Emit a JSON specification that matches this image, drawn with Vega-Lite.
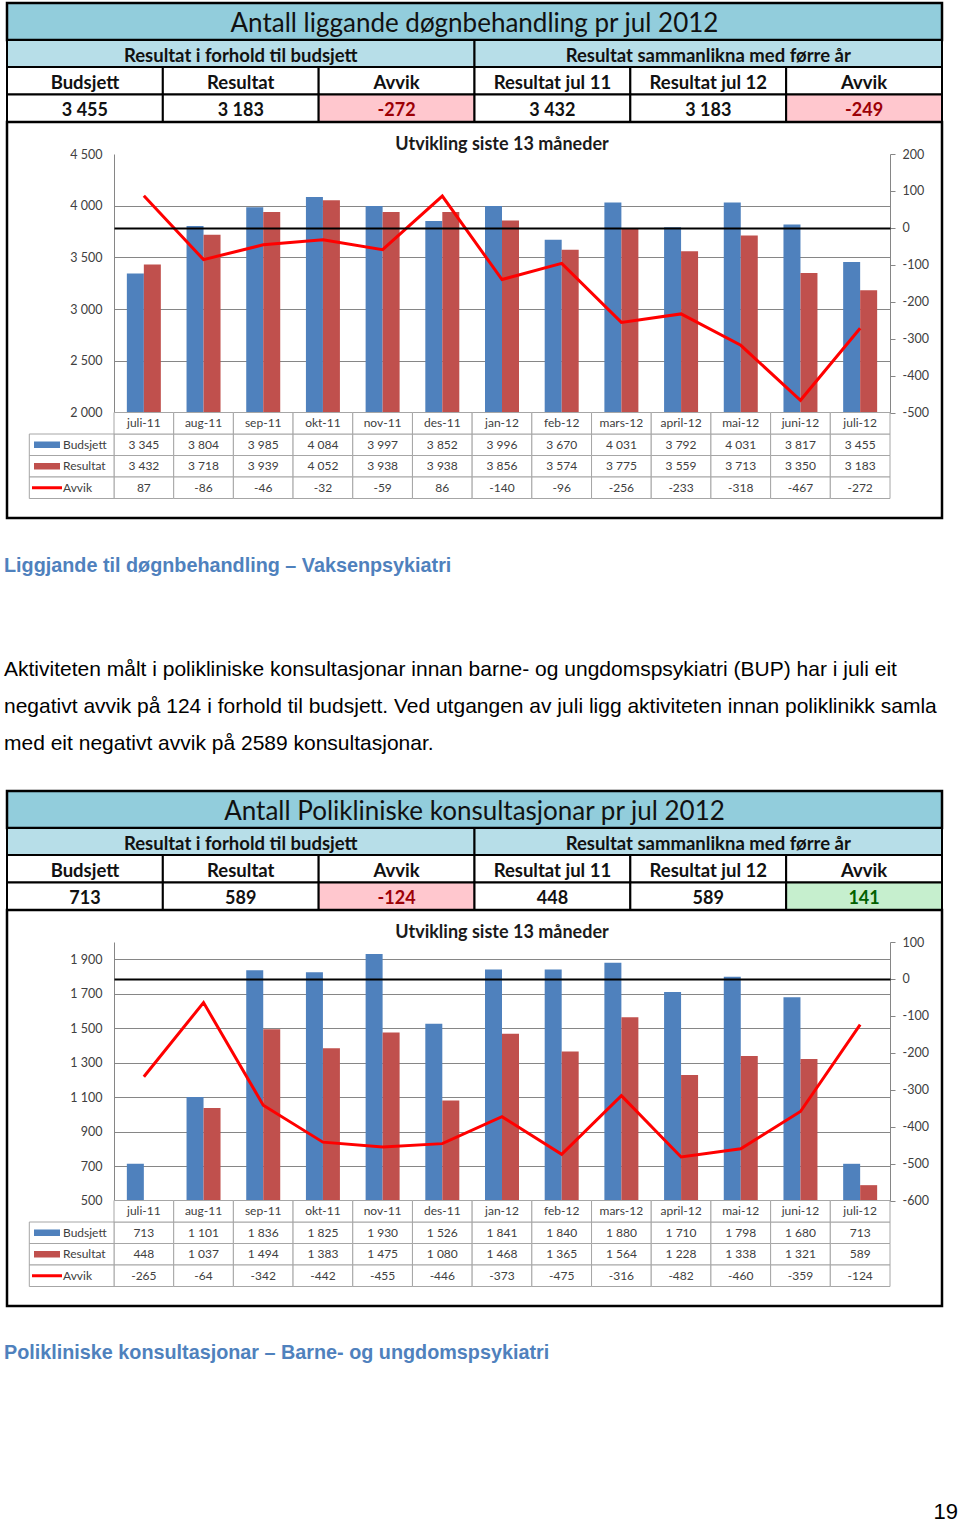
{
  "$schema": "https://vega.github.io/schema/vega-lite/v6.json",
  "background": "white",
  "padding": {"left": 4, "top": 0, "right": 0, "bottom": 0},
  "spacing": 0,
  "bounds": "flush",
  "resolve": {"scale": {"color": "independent", "fill": "independent", "shape": "independent"}},
  "config": {
    "view": {"stroke": null},
    "locale": {"number": {"decimal": ",", "thousands": " ", "grouping": [3], "currency": ["", ""], "minus": "-"}},
    "axis": {"labelFont": "Lato", "labelFontSize": 12.5, "labelColor": "#404040", "domainColor": "#868686", "tickColor": "#868686", "domainWidth": 1, "gridWidth": 1}
  },
  "datasets": {
    "p1": [
      {"month": "juli-11", "Budsjett": 3345, "Resultat": 3432, "Avvik": 87},
      {"month": "aug-11", "Budsjett": 3804, "Resultat": 3718, "Avvik": -86},
      {"month": "sep-11", "Budsjett": 3985, "Resultat": 3939, "Avvik": -46},
      {"month": "okt-11", "Budsjett": 4084, "Resultat": 4052, "Avvik": -32},
      {"month": "nov-11", "Budsjett": 3997, "Resultat": 3938, "Avvik": -59},
      {"month": "des-11", "Budsjett": 3852, "Resultat": 3938, "Avvik": 86},
      {"month": "jan-12", "Budsjett": 3996, "Resultat": 3856, "Avvik": -140},
      {"month": "feb-12", "Budsjett": 3670, "Resultat": 3574, "Avvik": -96},
      {"month": "mars-12", "Budsjett": 4031, "Resultat": 3775, "Avvik": -256},
      {"month": "april-12", "Budsjett": 3792, "Resultat": 3559, "Avvik": -233},
      {"month": "mai-12", "Budsjett": 4031, "Resultat": 3713, "Avvik": -318},
      {"month": "juni-12", "Budsjett": 3817, "Resultat": 3350, "Avvik": -467},
      {"month": "juli-12", "Budsjett": 3455, "Resultat": 3183, "Avvik": -272}
    ],
    "p2": [
      {"month": "juli-11", "Budsjett": 713, "Resultat": 448, "Avvik": -265},
      {"month": "aug-11", "Budsjett": 1101, "Resultat": 1037, "Avvik": -64},
      {"month": "sep-11", "Budsjett": 1836, "Resultat": 1494, "Avvik": -342},
      {"month": "okt-11", "Budsjett": 1825, "Resultat": 1383, "Avvik": -442},
      {"month": "nov-11", "Budsjett": 1930, "Resultat": 1475, "Avvik": -455},
      {"month": "des-11", "Budsjett": 1526, "Resultat": 1080, "Avvik": -446},
      {"month": "jan-12", "Budsjett": 1841, "Resultat": 1468, "Avvik": -373},
      {"month": "feb-12", "Budsjett": 1840, "Resultat": 1365, "Avvik": -475},
      {"month": "mars-12", "Budsjett": 1880, "Resultat": 1564, "Avvik": -316},
      {"month": "april-12", "Budsjett": 1710, "Resultat": 1228, "Avvik": -482},
      {"month": "mai-12", "Budsjett": 1798, "Resultat": 1338, "Avvik": -460},
      {"month": "juni-12", "Budsjett": 1680, "Resultat": 1321, "Avvik": -359},
      {"month": "juli-12", "Budsjett": 713, "Resultat": 589, "Avvik": -124}
    ],
    "h1": [
      {"c": 1, "head": "Budsjett", "value": 3455, "status": "none"},
      {"c": 2, "head": "Resultat", "value": 3183, "status": "none"},
      {"c": 3, "head": "Avvik", "value": -272, "status": "neg"},
      {"c": 4, "head": "Resultat jul 11", "value": 3432, "status": "none"},
      {"c": 5, "head": "Resultat jul 12", "value": 3183, "status": "none"},
      {"c": 6, "head": "Avvik", "value": -249, "status": "neg"}
    ],
    "h2": [
      {"c": 1, "head": "Budsjett", "value": 713, "status": "none"},
      {"c": 2, "head": "Resultat", "value": 589, "status": "none"},
      {"c": 3, "head": "Avvik", "value": -124, "status": "neg"},
      {"c": 4, "head": "Resultat jul 11", "value": 448, "status": "none"},
      {"c": 5, "head": "Resultat jul 12", "value": 589, "status": "none"},
      {"c": 6, "head": "Avvik", "value": 141, "status": "pos"}
    ],
    "legend": [{"series": "Budsjett"}, {"series": "Resultat"}, {"series": "Avvik"}],
    "sub": [{"k": "Resultat i forhold til budsjett"}, {"k": "Resultat sammanlikna med førre år"}]
  },
  "vconcat": [
    {"width": 10, "height": 3, "data": {"values": []}, "mark": "point"},
    {
      "width": 935, "height": 37,
      "view": {"fill": "#92cddc", "stroke": "black", "strokeWidth": 2.5},
      "data": {"values": [{"t": "Antall liggande døgnbehandling pr jul 2012"}]},
      "mark": {"type": "text", "font": "Lato", "fontSize": 26, "color": "#111111", "baseline": "middle", "dy": 2},
      "encoding": {"text": {"field": "t"}}
    },
    {
      "width": 935, "height": 27,
      "data": {"name": "sub"},
      "encoding": {"x": {"field": "k", "type": "nominal", "sort": null, "scale": {"type": "band", "paddingInner": 0, "paddingOuter": 0}, "axis": null}},
      "layer": [
        {"mark": {"type": "rect", "fill": "#b7dee8", "stroke": "black", "strokeWidth": 2}},
        {"mark": {"type": "text", "font": "Lato", "fontWeight": "bold", "fontSize": 18.5, "color": "#111111", "dy": 2}, "encoding": {"text": {"field": "k"}}}
      ]
    },
    {
      "width": 935, "height": 55,
      "data": {"name": "h1"},
      "encoding": {"x": {"field": "c", "type": "ordinal", "scale": {"type": "band", "paddingInner": 0, "paddingOuter": 0}, "axis": null}},
      "layer": [
        {"mark": {"type": "rect", "fill": "white", "stroke": "black", "strokeWidth": 2}, "encoding": {"y": {"datum": "h", "type": "nominal", "scale": {"type": "band", "domain": ["h", "v"], "paddingInner": 0, "paddingOuter": 0}, "axis": null}}},
        {"mark": {"type": "rect", "stroke": "black", "strokeWidth": 2}, "encoding": {"y": {"datum": "v", "type": "nominal"}, "fill": {"field": "status", "type": "nominal", "scale": {"domain": ["none", "neg", "pos"], "range": ["white", "#ffc7ce", "#c6efce"]}, "legend": null}}},
        {"mark": {"type": "text", "font": "Lato", "fontWeight": "bold", "fontSize": 18.5, "color": "#111111", "dy": 2}, "encoding": {"y": {"datum": "h", "type": "nominal"}, "text": {"field": "head"}}},
        {"mark": {"type": "text", "font": "Lato", "fontWeight": "bold", "fontSize": 18, "dy": 2.5}, "encoding": {"y": {"datum": "v", "type": "nominal"}, "text": {"field": "value", "type": "quantitative", "format": ",d"}, "color": {"field": "status", "type": "nominal", "scale": {"domain": ["none", "neg", "pos"], "range": ["#111111", "#9c0006", "#006100"]}, "legend": null}}}
      ]
    },
    {
      "width": 935, "height": 396,
      "view": {"fill": "white", "stroke": "black", "strokeWidth": 2.5},
      "resolve": {"scale": {"x": "independent", "y": "independent"}},
      "layer": [
        {
          "data": {"name": "p1"},
          "transform": [{"fold": ["Budsjett", "Resultat"], "as": ["series", "val"]}],
          "mark": {"type": "bar"},
          "encoding": {
            "x": {"field": "month", "type": "nominal", "sort": null, "scale": {"type": "band", "range": [107, 883], "paddingInner": 0, "paddingOuter": 0}, "axis": null},
            "xOffset": {"field": "series", "type": "nominal", "sort": ["Budsjett", "Resultat"], "scale": {"paddingInner": 0, "paddingOuter": 0.756}},
            "y": {"field": "val", "type": "quantitative", "scale": {"domain": [2000, 4500], "range": [290.5, 32], "nice": false, "zero": false, "clamp": true},
              "axis": {"orient": "left", "offset": -107, "values": [2000, 2500, 3000, 3500, 4000, 4500], "format": ",d", "ticks": false, "tickSize": 0, "labelPadding": 12, "grid": true, "gridColor": {"condition": {"test": "datum.value >= 4500", "value": "transparent"}, "value": "#868686"}, "title": null}},
            "y2": {"datum": 2000},
            "color": {"field": "series", "type": "nominal", "scale": {"domain": ["Budsjett", "Resultat"], "range": ["#4f81bd", "#c0504d"]}, "legend": null}
          }
        },
        {
          "data": {"name": "p1"},
          "mark": {"type": "point", "opacity": 0},
          "encoding": {
            "x": {"field": "month", "type": "nominal", "sort": null, "scale": {"type": "band", "range": [107, 883], "paddingInner": 0, "paddingOuter": 0}, "axis": null},
            "y": {"field": "Avvik", "type": "quantitative", "scale": {"domain": [-500, 200], "range": [290.5, 32], "nice": false, "zero": false},
              "axis": {"orient": "left", "offset": -107, "values": [0], "labels": false, "ticks": false, "domain": false, "grid": true, "gridColor": "#000000", "gridWidth": 2, "zindex": 1, "title": null}}
          }
        },
        {
          "data": {"name": "p1"},
          "mark": {"type": "line", "color": "#ff0000", "strokeWidth": 3},
          "encoding": {
            "x": {"field": "month", "type": "nominal", "sort": null, "scale": {"type": "band", "range": [107, 883], "paddingInner": 0, "paddingOuter": 0}, "axis": null},
            "y": {"field": "Avvik", "type": "quantitative", "scale": {"domain": [-500, 200], "range": [290.5, 32], "nice": false, "zero": false},
              "axis": {"orient": "right", "offset": -52, "values": [-500, -400, -300, -200, -100, 0, 100, 200], "format": "d", "tickSize": 5, "labelPadding": 7, "grid": false, "title": null}}
          }
        },
        {
          "data": {"name": "p1"},
          "transform": [{"fold": ["Budsjett", "Resultat", "Avvik"], "as": ["row", "val"]}],
          "encoding": {
            "x": {"field": "month", "type": "nominal", "sort": null, "scale": {"type": "band", "range": [107, 883], "paddingInner": 0, "paddingOuter": 0}, "axis": null},
            "y": {"field": "row", "type": "nominal", "scale": {"type": "band", "domain": ["m", "Budsjett", "Resultat", "Avvik"], "range": [290.5, 376.5], "paddingInner": 0, "paddingOuter": 0}, "axis": null}
          },
          "layer": [
            {"mark": {"type": "rect", "fill": "white", "stroke": "#a6a6a6", "strokeWidth": 1}},
            {"mark": {"type": "text", "font": "Lato", "fontSize": 12, "color": "#404040"}, "encoding": {"text": {"field": "val", "type": "quantitative", "format": ",d"}}},
            {"transform": [{"filter": "datum.row === 'Budsjett'"}], "mark": {"type": "rect", "fill": "white", "stroke": "#a6a6a6", "strokeWidth": 1}, "encoding": {"y": {"datum": "m", "type": "nominal"}}},
            {"transform": [{"filter": "datum.row === 'Budsjett'"}], "mark": {"type": "text", "font": "Lato", "fontSize": 12, "color": "#404040"}, "encoding": {"y": {"datum": "m", "type": "nominal"}, "text": {"field": "month"}}}
          ]
        },
        {
          "data": {"name": "legend"},
          "resolve": {"scale": {"x": "independent"}},
          "encoding": {"y": {"field": "series", "type": "nominal", "scale": {"type": "band", "domain": ["m", "Budsjett", "Resultat", "Avvik"], "range": [290.5, 376.5], "paddingInner": 0, "paddingOuter": 0}, "axis": null}},
          "layer": [
            {"mark": {"type": "rect", "fill": "white", "stroke": "#a6a6a6", "strokeWidth": 1}, "encoding": {"x": {"datum": "lbl", "type": "nominal", "scale": {"type": "band", "domain": ["lbl"], "range": [22.3, 107], "paddingInner": 0, "paddingOuter": 0}, "axis": null}}},
            {"mark": {"type": "point", "filled": true, "opacity": 1, "size": 900, "strokeWidth": 0}, "encoding": {"x": {"datum": "sym", "type": "nominal", "scale": {"type": "point", "domain": ["sym", "txt"], "range": [40, 56], "padding": 0}, "axis": null}, "shape": {"field": "series", "type": "nominal", "scale": {"domain": ["Budsjett", "Resultat", "Avvik"], "range": ["M-0.867,-0.217H0.867V0.217H-0.867Z", "M-0.867,-0.217H0.867V0.217H-0.867Z", "M-1,-0.1H1V0.1H-1Z"]}, "legend": null}, "fill": {"field": "series", "type": "nominal", "scale": {"domain": ["Budsjett", "Resultat", "Avvik"], "range": ["#4f81bd", "#c0504d", "#ff0000"]}, "legend": null}}},
            {"mark": {"type": "text", "align": "left", "font": "Lato", "fontSize": 12, "color": "#404040"}, "encoding": {"x": {"datum": "txt", "type": "nominal", "scale": {"type": "point", "domain": ["sym", "txt"], "range": [40, 56], "padding": 0}, "axis": null}, "text": {"field": "series"}}}
          ]
        },
        {
          "data": {"values": [{"t": "Utvikling siste 13 måneder"}]},
          "mark": {"type": "text", "font": "Lato", "fontWeight": "bold", "fontSize": 18, "color": "#1a1a1a", "dy": 2},
          "encoding": {
            "x": {"field": "t", "type": "nominal", "scale": {"type": "point", "range": [107, 883]}, "axis": null},
            "y": {"field": "t", "type": "nominal", "scale": {"type": "point", "range": [0, 42.4]}, "axis": null},
            "text": {"field": "t"}
          }
        }
      ]
    },
    {
      "width": 956, "height": 94,
      "data": {"values": [{"t": "Liggjande til døgnbehandling – Vaksenpsykiatri"}]},
      "mark": {"type": "text", "align": "left", "baseline": "middle", "dx": -3, "dy": 1, "font": "Liberation Sans", "fontWeight": "bold", "fontSize": 19.8, "color": "#4f81bd"},
      "encoding": {"x": {"datum": 0, "type": "quantitative", "scale": {"domain": [0, 1]}, "axis": null}, "text": {"field": "t"}}
    },
    {"width": 10, "height": 37, "data": {"values": []}, "mark": "point"},
    {
      "width": 956, "height": 112,
      "data": {"values": [
        {"line": 1, "text": "Aktiviteten målt i polikliniske konsultasjonar innan  barne- og ungdomspsykiatri (BUP) har i juli eit"},
        {"line": 2, "text": "negativt avvik på 124  i forhold til budsjett. Ved utgangen av juli ligg aktiviteten innan poliklinikk samla"},
        {"line": 3, "text": "med eit negativt avvik på 2589 konsultasjonar."}
      ]},
      "mark": {"type": "text", "align": "left", "baseline": "middle", "dx": -3, "dy": 2, "font": "Liberation Sans", "fontSize": 21, "color": "#000000"},
      "encoding": {
        "x": {"datum": 0, "type": "quantitative", "scale": {"domain": [0, 1]}, "axis": null},
        "y": {"field": "line", "type": "ordinal", "scale": {"type": "point", "padding": 0.5}, "axis": null},
        "text": {"field": "text"}
      }
    },
    {"width": 10, "height": 30, "data": {"values": []}, "mark": "point"},
    {
      "width": 935, "height": 37,
      "view": {"fill": "#92cddc", "stroke": "black", "strokeWidth": 2.5},
      "data": {"values": [{"t": "Antall Polikliniske konsultasjonar pr jul 2012"}]},
      "mark": {"type": "text", "font": "Lato", "fontSize": 26, "color": "#111111", "baseline": "middle", "dy": 2},
      "encoding": {"text": {"field": "t"}}
    },
    {
      "width": 935, "height": 27,
      "data": {"name": "sub"},
      "encoding": {"x": {"field": "k", "type": "nominal", "sort": null, "scale": {"type": "band", "paddingInner": 0, "paddingOuter": 0}, "axis": null}},
      "layer": [
        {"mark": {"type": "rect", "fill": "#b7dee8", "stroke": "black", "strokeWidth": 2}},
        {"mark": {"type": "text", "font": "Lato", "fontWeight": "bold", "fontSize": 18.5, "color": "#111111", "dy": 2}, "encoding": {"text": {"field": "k"}}}
      ]
    },
    {
      "width": 935, "height": 55,
      "data": {"name": "h2"},
      "encoding": {"x": {"field": "c", "type": "ordinal", "scale": {"type": "band", "paddingInner": 0, "paddingOuter": 0}, "axis": null}},
      "layer": [
        {"mark": {"type": "rect", "fill": "white", "stroke": "black", "strokeWidth": 2}, "encoding": {"y": {"datum": "h", "type": "nominal", "scale": {"type": "band", "domain": ["h", "v"], "paddingInner": 0, "paddingOuter": 0}, "axis": null}}},
        {"mark": {"type": "rect", "stroke": "black", "strokeWidth": 2}, "encoding": {"y": {"datum": "v", "type": "nominal"}, "fill": {"field": "status", "type": "nominal", "scale": {"domain": ["none", "neg", "pos"], "range": ["white", "#ffc7ce", "#c6efce"]}, "legend": null}}},
        {"mark": {"type": "text", "font": "Lato", "fontWeight": "bold", "fontSize": 18.5, "color": "#111111", "dy": 2}, "encoding": {"y": {"datum": "h", "type": "nominal"}, "text": {"field": "head"}}},
        {"mark": {"type": "text", "font": "Lato", "fontWeight": "bold", "fontSize": 18, "dy": 2.5}, "encoding": {"y": {"datum": "v", "type": "nominal"}, "text": {"field": "value", "type": "quantitative", "format": ",d"}, "color": {"field": "status", "type": "nominal", "scale": {"domain": ["none", "neg", "pos"], "range": ["#111111", "#9c0006", "#006100"]}, "legend": null}}}
      ]
    },
    {
      "width": 935, "height": 396,
      "view": {"fill": "white", "stroke": "black", "strokeWidth": 2.5},
      "resolve": {"scale": {"x": "independent", "y": "independent"}},
      "layer": [
        {
          "data": {"name": "p2"},
          "transform": [{"fold": ["Budsjett", "Resultat"], "as": ["series", "val"]}],
          "mark": {"type": "bar"},
          "encoding": {
            "x": {"field": "month", "type": "nominal", "sort": null, "scale": {"type": "band", "range": [107, 883], "paddingInner": 0, "paddingOuter": 0}, "axis": null},
            "xOffset": {"field": "series", "type": "nominal", "sort": ["Budsjett", "Resultat"], "scale": {"paddingInner": 0, "paddingOuter": 0.756}},
            "y": {"field": "val", "type": "quantitative", "scale": {"domain": [500, 2000], "range": [290.5, 32], "nice": false, "zero": false, "clamp": true},
              "axis": {"orient": "left", "offset": -107, "values": [500, 700, 900, 1100, 1300, 1500, 1700, 1900], "format": ",d", "ticks": false, "tickSize": 0, "labelPadding": 12, "grid": true, "gridColor": "#868686", "title": null}},
            "y2": {"datum": 500},
            "color": {"field": "series", "type": "nominal", "scale": {"domain": ["Budsjett", "Resultat"], "range": ["#4f81bd", "#c0504d"]}, "legend": null}
          }
        },
        {
          "data": {"name": "p2"},
          "mark": {"type": "point", "opacity": 0},
          "encoding": {
            "x": {"field": "month", "type": "nominal", "sort": null, "scale": {"type": "band", "range": [107, 883], "paddingInner": 0, "paddingOuter": 0}, "axis": null},
            "y": {"field": "Avvik", "type": "quantitative", "scale": {"domain": [-600, 100], "range": [290.5, 32], "nice": false, "zero": false},
              "axis": {"orient": "left", "offset": -107, "values": [0], "labels": false, "ticks": false, "domain": false, "grid": true, "gridColor": "#000000", "gridWidth": 2, "zindex": 1, "title": null}}
          }
        },
        {
          "data": {"name": "p2"},
          "mark": {"type": "line", "color": "#ff0000", "strokeWidth": 3},
          "encoding": {
            "x": {"field": "month", "type": "nominal", "sort": null, "scale": {"type": "band", "range": [107, 883], "paddingInner": 0, "paddingOuter": 0}, "axis": null},
            "y": {"field": "Avvik", "type": "quantitative", "scale": {"domain": [-600, 100], "range": [290.5, 32], "nice": false, "zero": false},
              "axis": {"orient": "right", "offset": -52, "values": [-600, -500, -400, -300, -200, -100, 0, 100], "format": "d", "tickSize": 5, "labelPadding": 7, "grid": false, "title": null}}
          }
        },
        {
          "data": {"name": "p2"},
          "transform": [{"fold": ["Budsjett", "Resultat", "Avvik"], "as": ["row", "val"]}],
          "encoding": {
            "x": {"field": "month", "type": "nominal", "sort": null, "scale": {"type": "band", "range": [107, 883], "paddingInner": 0, "paddingOuter": 0}, "axis": null},
            "y": {"field": "row", "type": "nominal", "scale": {"type": "band", "domain": ["m", "Budsjett", "Resultat", "Avvik"], "range": [290.5, 376.5], "paddingInner": 0, "paddingOuter": 0}, "axis": null}
          },
          "layer": [
            {"mark": {"type": "rect", "fill": "white", "stroke": "#a6a6a6", "strokeWidth": 1}},
            {"mark": {"type": "text", "font": "Lato", "fontSize": 12, "color": "#404040"}, "encoding": {"text": {"field": "val", "type": "quantitative", "format": ",d"}}},
            {"transform": [{"filter": "datum.row === 'Budsjett'"}], "mark": {"type": "rect", "fill": "white", "stroke": "#a6a6a6", "strokeWidth": 1}, "encoding": {"y": {"datum": "m", "type": "nominal"}}},
            {"transform": [{"filter": "datum.row === 'Budsjett'"}], "mark": {"type": "text", "font": "Lato", "fontSize": 12, "color": "#404040"}, "encoding": {"y": {"datum": "m", "type": "nominal"}, "text": {"field": "month"}}}
          ]
        },
        {
          "data": {"name": "legend"},
          "resolve": {"scale": {"x": "independent"}},
          "encoding": {"y": {"field": "series", "type": "nominal", "scale": {"type": "band", "domain": ["m", "Budsjett", "Resultat", "Avvik"], "range": [290.5, 376.5], "paddingInner": 0, "paddingOuter": 0}, "axis": null}},
          "layer": [
            {"mark": {"type": "rect", "fill": "white", "stroke": "#a6a6a6", "strokeWidth": 1}, "encoding": {"x": {"datum": "lbl", "type": "nominal", "scale": {"type": "band", "domain": ["lbl"], "range": [22.3, 107], "paddingInner": 0, "paddingOuter": 0}, "axis": null}}},
            {"mark": {"type": "point", "filled": true, "opacity": 1, "size": 900, "strokeWidth": 0}, "encoding": {"x": {"datum": "sym", "type": "nominal", "scale": {"type": "point", "domain": ["sym", "txt"], "range": [40, 56], "padding": 0}, "axis": null}, "shape": {"field": "series", "type": "nominal", "scale": {"domain": ["Budsjett", "Resultat", "Avvik"], "range": ["M-0.867,-0.217H0.867V0.217H-0.867Z", "M-0.867,-0.217H0.867V0.217H-0.867Z", "M-1,-0.1H1V0.1H-1Z"]}, "legend": null}, "fill": {"field": "series", "type": "nominal", "scale": {"domain": ["Budsjett", "Resultat", "Avvik"], "range": ["#4f81bd", "#c0504d", "#ff0000"]}, "legend": null}}},
            {"mark": {"type": "text", "align": "left", "font": "Lato", "fontSize": 12, "color": "#404040"}, "encoding": {"x": {"datum": "txt", "type": "nominal", "scale": {"type": "point", "domain": ["sym", "txt"], "range": [40, 56], "padding": 0}, "axis": null}, "text": {"field": "series"}}}
          ]
        },
        {
          "data": {"values": [{"t": "Utvikling siste 13 måneder"}]},
          "mark": {"type": "text", "font": "Lato", "fontWeight": "bold", "fontSize": 18, "color": "#1a1a1a", "dy": 2},
          "encoding": {
            "x": {"field": "t", "type": "nominal", "scale": {"type": "point", "range": [107, 883]}, "axis": null},
            "y": {"field": "t", "type": "nominal", "scale": {"type": "point", "range": [0, 42.4]}, "axis": null},
            "text": {"field": "t"}
          }
        }
      ]
    },
    {
      "width": 956, "height": 92,
      "data": {"values": [{"t": "Polikliniske konsultasjonar – Barne- og ungdomspsykiatri"}]},
      "mark": {"type": "text", "align": "left", "baseline": "middle", "dx": -3, "dy": 1, "font": "Liberation Sans", "fontWeight": "bold", "fontSize": 19.8, "color": "#4f81bd"},
      "encoding": {"x": {"datum": 0, "type": "quantitative", "scale": {"domain": [0, 1]}, "axis": null}, "text": {"field": "t"}}
    },
    {
      "width": 951, "height": 123,
      "data": {"values": [{"t": "19"}]},
      "mark": {"type": "text", "align": "right", "baseline": "alphabetic", "font": "Liberation Sans", "fontSize": 22, "color": "#000000"},
      "encoding": {
        "x": {"datum": 1, "type": "quantitative", "scale": {"domain": [0, 1]}, "axis": null},
        "y": {"datum": 0.02, "type": "quantitative", "scale": {"domain": [0, 1]}, "axis": null},
        "text": {"field": "t"}
      }
    }
  ]
}
